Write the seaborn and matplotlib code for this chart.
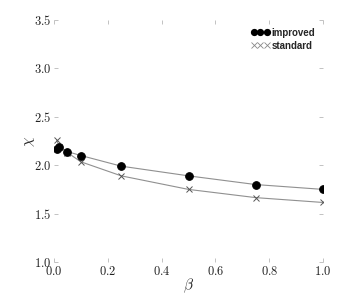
import pandas as pd
import seaborn as sns
import matplotlib.pyplot as plt
from matplotlib.lines import Line2D
from matplotlib.ticker import FuncFormatter

beta = [0.01, 0.02, 0.05, 0.1, 0.25, 0.5, 0.75, 1.0]
improved = [2.17, 2.19, 2.14, 2.10, 1.99, 1.89, 1.80, 1.75]
standard = [2.26, 2.19, 2.13, 2.035, 1.89, 1.75, 1.665, 1.615]

sns.set_style("white")
plt.rcParams["mathtext.fontset"] = "cm"

df_imp = pd.DataFrame({"beta": beta, "chi": improved})
df_std = pd.DataFrame({"beta": beta, "chi": standard})

fig = plt.figure(figsize=(3.54, 3.04), dpi=100, facecolor="white")
ax = fig.add_axes([54 / 354, 1 - 262 / 304, (323 - 54) / 354, (262 - 20) / 304])

sns.lineplot(data=df_std, x="beta", y="chi", ax=ax, color="#909090", lw=0.8,
             marker="x", markersize=5, markeredgecolor="#555555",
             markeredgewidth=0.7, zorder=2)
sns.lineplot(data=df_imp, x="beta", y="chi", ax=ax, color="#909090", lw=0.8,
             marker="o", markersize=5.5, markerfacecolor="black",
             markeredgecolor="black", zorder=3)

ax.set_xlim(0, 1.0)
ax.set_ylim(1.0, 3.5)
ax.set_xticks([0, 0.2, 0.4, 0.6, 0.8, 1.0])
ax.set_yticks([1.0, 1.5, 2.0, 2.5, 3.0, 3.5])
fmt = FuncFormatter(lambda v, p: r"$%.1f$" % v)
ax.xaxis.set_major_formatter(fmt)
ax.yaxis.set_major_formatter(fmt)
ax.tick_params(direction="in", length=3, width=0.5, color="#aaaaaa",
               labelsize=9, top=True, right=True, bottom=True, left=True,
               pad=2, labelcolor="#222222")
for s in ax.spines.values():
    s.set_visible(False)

ax.set_xlabel(r"$\beta$", fontsize=11, labelpad=-1)
ax.set_ylabel(r"$\chi$", fontsize=11, labelpad=-2)

handles = [
    Line2D([], [], ls="none", marker="o", markersize=4.2, color="black"),
    Line2D([], [], ls="none", marker="x", markersize=4.5, color="#888888",
           markeredgewidth=0.6),
]
leg = ax.legend(handles, ["improved", "standard"], loc="upper right",
                numpoints=3, frameon=False, handlelength=2.0,
                handletextpad=0.15, labelspacing=0.3, borderaxespad=0.4,
                prop={"family": "Liberation Sans", "weight": "bold", "size": 7})

fig.savefig("out.png", dpi=100)
